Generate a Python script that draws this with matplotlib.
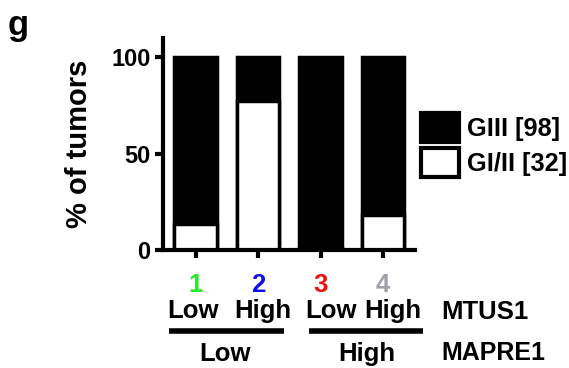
import matplotlib.pyplot as plt
from matplotlib.patches import Patch
from matplotlib.lines import Line2D

plt.rcParams['font.family'] = ['Liberation Sans', 'DejaVu Sans']
plt.rcParams['font.weight'] = 'bold'

# data
groups = ['1', '2', '3', '4']
group_colors = ['#22ee22', '#1010ee', '#ee1111', '#a0a0a8']
mtus1 = ['Low', 'High', 'Low', 'High']
mapre1 = ['Low', 'High']
gi_ii = [13.5, 77.5, 1.0, 18.0]
total = [100, 100, 100, 100]
legend_labels = ['GIII [98]', 'GI/II [32]']

W, H = 569, 368
fig = plt.figure(figsize=(W / 100, H / 100), dpi=100)


def fx(px):
    return px / W


def fy(py):
    return 1 - py / H


ax = fig.add_axes([fx(163), fy(250), fx(415) - fx(163), fy(38) - fy(250)])

x = range(len(groups))
ax.bar(x, total, width=0.68, color='black', edgecolor='black', linewidth=2.5)
ax.bar(x, gi_ii, width=0.68, color='white', edgecolor='black', linewidth=2.5)

ax.set_xlim(-0.52, 3.51)
ax.set_ylim(0, 110)
ax.set_yticks([0, 50, 100])
ax.set_xticks(list(x))
ax.set_xticklabels([])
ax.tick_params(axis='both', width=3, length=6, labelsize=17)
ax.tick_params(axis='y', pad=3)
for s in ['top', 'right']:
    ax.spines[s].set_visible(False)
for s in ['left', 'bottom']:
    ax.spines[s].set_linewidth(3)

ax.set_ylabel('% of tumors', fontsize=21, fontweight='bold', labelpad=13)

fig.text(fx(8), fy(25), 'g', fontsize=25, fontweight='bold', va='center')

# legend
handles = [Patch(facecolor='black', edgecolor='black', linewidth=3),
           Patch(facecolor='white', edgecolor='black', linewidth=3)]
fig.legend(handles, legend_labels, loc='center left',
           bbox_to_anchor=(fx(421), fy(145)), frameon=False,
           handlelength=1.5, handleheight=1.35,
           handletextpad=0.3, labelspacing=0.25,
           borderpad=0, borderaxespad=0,
           prop={'weight': 'bold', 'size': 18.3})

# bottom labels
num_x = [195.5, 258.5, 320.5, 383]
for px, g, c in zip(num_x, groups, group_colors):
    fig.text(fx(px), fy(285), g, color=c, fontsize=18.5, fontweight='bold',
             ha='center', va='center')

mt_x = [193, 263, 331, 393]
for px, t in zip(mt_x, mtus1):
    fig.text(fx(px), fy(311), t, fontsize=18.5, fontweight='bold',
             ha='center', va='center')
fig.text(fx(441), fy(312), 'MTUS1', fontsize=18.5, fontweight='bold',
         ha='left', va='center')

for x0, x1 in [(169, 284), (309, 423)]:
    fig.add_artist(Line2D([fx(x0), fx(x1)], [fy(331), fy(331)],
                          color='black', linewidth=4, solid_capstyle='butt'))

for px, t in zip([225, 367], mapre1):
    fig.text(fx(px), fy(354), t, fontsize=18.5, fontweight='bold',
             ha='center', va='center')
fig.text(fx(441), fy(353), 'MAPRE1', fontsize=18, fontweight='bold',
         ha='left', va='center')

fig.savefig('out.png', dpi=100)
